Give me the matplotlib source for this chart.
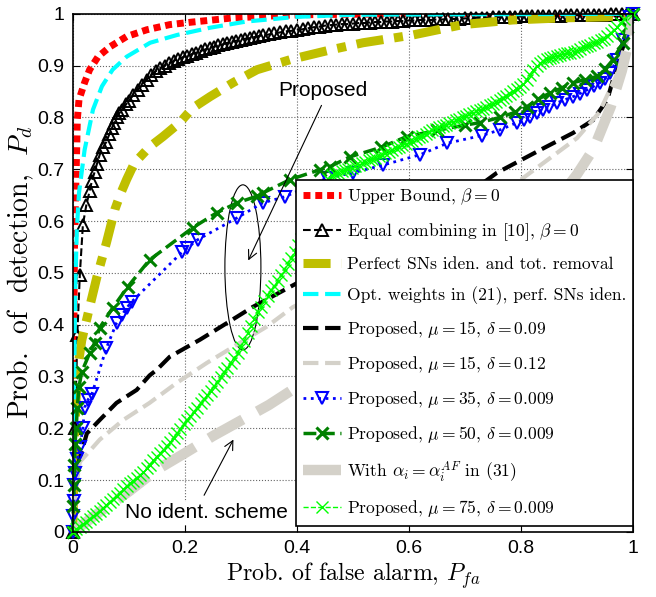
import matplotlib
matplotlib.use("Agg")
import matplotlib.pyplot as plt
from matplotlib.patches import Ellipse

plt.rcParams['mathtext.fontset'] = 'cm'

# ---- data (Pfa, Pd) ----
ub_x = [0, 0.001, 0.002, 0.003, 0.005, 0.007, 0.008, 0.011, 0.021, 0.03, 0.045, 0.066,
        0.096, 0.132, 0.173, 0.214, 0.286, 0.4, 0.6, 1.0]
ub_y = [0, 0.2, 0.4, 0.55, 0.654, 0.743, 0.795, 0.834, 0.867, 0.892, 0.917, 0.936,
        0.956, 0.969, 0.979, 0.984, 0.992, 0.998, 1.0, 1.0]

eq_x = [0, 0.004, 0.008, 0.0125, 0.018, 0.024, 0.03, 0.034, 0.039, 0.043, 0.048, 0.054,
        0.06, 0.065, 0.07, 0.074, 0.078, 0.083, 0.088, 0.095,
        0.100, 0.108, 0.116, 0.124, 0.132, 0.140, 0.148, 0.156, 0.164, 0.172, 0.180,
        0.188, 0.196, 0.204, 0.212, 0.220, 0.228, 0.236, 0.244, 0.252, 0.260, 0.268,
        0.276, 0.284, 0.292, 0.300, 0.308, 0.316, 0.324, 0.332, 0.340, 0.350,
        0.36, 0.37, 0.38, 0.39, 0.40, 0.41, 0.42, 0.43, 0.44, 0.45, 0.46, 0.47, 0.48,
        0.49, 0.50, 0.51, 0.52, 0.53, 0.54, 0.55, 0.56, 0.57, 0.58, 0.59, 0.60, 0.61,
        0.62, 0.63, 0.64, 0.65, 0.66, 0.67, 0.68, 0.69, 0.70, 0.71, 0.72, 0.73, 0.74,
        0.75, 0.76, 0.77, 0.78, 0.79, 0.80, 0.81, 0.82, 0.83, 0.84, 0.85, 0.86, 0.87,
        0.88, 0.89, 0.90, 0.91, 0.92, 0.93, 0.94, 0.95, 0.96, 0.97, 0.98, 0.99, 1.0]
eq_y = [0, 0.2, 0.38, 0.496, 0.593, 0.63, 0.658, 0.677, 0.695, 0.71, 0.728, 0.742,
        0.753, 0.767, 0.78, 0.79, 0.8, 0.808, 0.815, 0.825,
        0.832, 0.843, 0.853, 0.862, 0.873, 0.881, 0.889, 0.895, 0.900, 0.905, 0.909,
        0.913, 0.916, 0.919, 0.922, 0.925, 0.928, 0.931, 0.934, 0.936, 0.939, 0.941,
        0.944, 0.946, 0.948, 0.950, 0.952, 0.953, 0.955, 0.957, 0.958, 0.960,
        0.962, 0.964, 0.966, 0.967, 0.969, 0.970, 0.972, 0.974, 0.975, 0.977, 0.978,
        0.979, 0.980, 0.980, 0.981, 0.982, 0.982, 0.983, 0.984, 0.984, 0.985, 0.985,
        0.986, 0.986, 0.987, 0.987, 0.988, 0.988, 0.988, 0.989, 0.989, 0.990, 0.990,
        0.990, 0.991, 0.991, 0.992, 0.992, 0.992, 0.993, 0.993, 0.993, 0.994, 0.994,
        0.995, 0.995, 0.995, 0.995, 0.996, 0.996, 0.996, 0.996, 0.997, 0.997, 0.997,
        0.997, 0.998, 0.998, 0.998, 0.998, 0.999, 0.999, 0.999, 0.999, 1.0]

perf_x = [0, 0.003, 0.006, 0.009, 0.016, 0.03, 0.043, 0.06, 0.075, 0.085, 0.096, 0.11,
          0.137, 0.161, 0.191, 0.214, 0.245, 0.286, 0.329, 0.39, 0.459, 0.518, 0.607,
          0.696, 0.786, 0.875, 0.954, 1.0]
perf_y = [0, 0.18, 0.26, 0.318, 0.37, 0.434, 0.492, 0.558, 0.622, 0.652, 0.68, 0.712,
          0.743, 0.763, 0.79, 0.818, 0.84, 0.867, 0.892, 0.912, 0.93, 0.944, 0.959,
          0.979, 0.988, 0.992, 0.994, 1.0]

opt_x = [0, 0.001, 0.002, 0.004, 0.007, 0.011, 0.021, 0.036, 0.052, 0.071, 0.096, 0.138,
         0.186, 0.245, 0.31, 0.4, 0.5, 1.0]
opt_y = [0, 0.1, 0.25, 0.45, 0.58, 0.654, 0.737, 0.815, 0.86, 0.892, 0.917, 0.944,
         0.959, 0.973, 0.985, 0.994, 0.998, 1.0]

p15a_x = [0, 0.003, 0.006, 0.01, 0.025, 0.048, 0.078, 0.114, 0.137, 0.15, 0.173, 0.227,
          0.275, 0.321, 0.4, 0.5, 0.6, 0.7, 0.757, 0.834, 0.893, 0.929, 0.954, 0.971,
          0.99, 1.0]
p15a_y = [0, 0.06, 0.1, 0.133, 0.19, 0.216, 0.249, 0.274, 0.302, 0.313, 0.338, 0.371,
          0.403, 0.434, 0.48, 0.53, 0.58, 0.648, 0.693, 0.737, 0.77, 0.795, 0.834, 0.898,
          0.963, 1.0]

p15b_x = [0, 0.005, 0.0125, 0.048, 0.09, 0.137, 0.186, 0.239, 0.286, 0.346, 0.393, 0.5,
          0.6, 0.7, 0.8, 0.85, 0.9, 0.94, 0.97, 0.99, 1.0]
p15b_y = [0, 0.08, 0.135, 0.178, 0.216, 0.249, 0.288, 0.326, 0.357, 0.396, 0.434, 0.49,
          0.55, 0.62, 0.68, 0.72, 0.76, 0.81, 0.88, 0.95, 1.0]

p35_x = [0, 0.001, 0.002, 0.003, 0.004, 0.008, 0.0125, 0.018, 0.021, 0.027, 0.034, 0.06,
         0.078, 0.088, 0.096, 0.105, 0.195, 0.204, 0.223, 0.293, 0.339, 0.379, 0.454, 0.5,
         0.554, 0.62, 0.668, 0.73, 0.763, 0.793, 0.805, 0.816, 0.828, 0.839, 0.85, 0.864,
         0.878, 0.893, 0.905, 0.918, 0.93, 0.941, 0.95, 0.959, 0.971, 0.982, 0.995, 1.0]
p35_y = [0, 0.03, 0.06, 0.09, 0.114, 0.14, 0.164, 0.2, 0.24, 0.255, 0.266, 0.355,
         0.403, 0.419, 0.432, 0.444, 0.54, 0.548, 0.564, 0.606, 0.635, 0.647, 0.683, 0.693,
         0.708, 0.728, 0.75, 0.765, 0.776, 0.79, 0.795, 0.801, 0.808, 0.815, 0.82, 0.828,
         0.834, 0.84, 0.846, 0.853, 0.86, 0.867, 0.875, 0.886, 0.911, 0.95, 0.994, 1.0]

p50_x = [0, 0.001, 0.002, 0.003, 0.004, 0.006, 0.008, 0.011, 0.016, 0.03, 0.039, 0.048,
         0.071, 0.098, 0.137, 0.214, 0.257, 0.293, 0.329, 0.339, 0.388, 0.441, 0.459,
         0.495, 0.55, 0.596, 0.65, 0.7, 0.727, 0.763, 0.79, 0.81, 0.83, 0.852, 0.873,
         0.893, 0.915, 0.936, 0.95, 0.964, 0.982, 0.989, 1.0]
p50_y = [0, 0.05, 0.09, 0.13, 0.17, 0.2, 0.24, 0.28, 0.309, 0.345, 0.365, 0.394,
         0.432, 0.473, 0.525, 0.587, 0.616, 0.635, 0.648, 0.654, 0.68, 0.699, 0.705,
         0.724, 0.742, 0.763, 0.775, 0.785, 0.79, 0.8, 0.81, 0.82, 0.835, 0.847, 0.857,
         0.867, 0.873, 0.879, 0.893, 0.911, 0.944, 0.975, 1.0]

af_x = [0, 0.05, 0.1, 0.15, 0.2, 0.25, 0.3, 0.35, 0.4, 0.5, 0.6, 0.7, 0.8, 0.85, 0.9,
        0.93, 0.96, 0.98, 0.995, 1.0]
af_y = [0, 0.04, 0.078, 0.12, 0.152, 0.185, 0.215, 0.245, 0.28, 0.34, 0.4, 0.47, 0.56,
        0.62, 0.69, 0.74, 0.82, 0.89, 0.96, 1.0]

p75_x = [0.000, 0.006, 0.012, 0.018, 0.024, 0.030, 0.036, 0.042, 0.048, 0.054, 0.060,
         0.066, 0.072, 0.078, 0.084, 0.090, 0.096, 0.102, 0.108, 0.114, 0.120, 0.126,
         0.132, 0.138, 0.144, 0.150, 0.156, 0.162, 0.168, 0.174, 0.180, 0.186, 0.192,
         0.198, 0.204, 0.210, 0.216, 0.222, 0.228, 0.234, 0.240, 0.246, 0.252, 0.258,
         0.264, 0.270, 0.276, 0.282, 0.288, 0.294, 0.300, 0.306, 0.312, 0.318, 0.324,
         0.330, 0.336, 0.342, 0.348, 0.354, 0.360, 0.366, 0.372, 0.378, 0.384, 0.390,
         0.396, 0.402, 0.408, 0.414, 0.420, 0.426, 0.432, 0.438, 0.444, 0.450, 0.456,
         0.462, 0.468, 0.474, 0.480, 0.486, 0.492, 0.498, 0.504, 0.510, 0.516, 0.522,
         0.528, 0.534, 0.540, 0.546, 0.552, 0.558, 0.564, 0.570, 0.576, 0.582, 0.588,
         0.594, 0.600, 0.606, 0.612, 0.618, 0.624, 0.630, 0.636, 0.642, 0.648, 0.654,
         0.660, 0.666, 0.672, 0.678, 0.684, 0.690, 0.696, 0.702, 0.708, 0.714, 0.720,
         0.726, 0.732, 0.738, 0.744, 0.750, 0.756, 0.762, 0.768, 0.774, 0.780, 0.786,
         0.792, 0.798, 0.804, 0.810, 0.816, 0.822, 0.828, 0.834, 0.840, 0.846, 0.852,
         0.858, 0.864, 0.870, 0.876, 0.882, 0.888, 0.894, 0.900, 0.906, 0.912, 0.918,
         0.924, 0.930, 0.936, 0.942, 0.948, 0.954, 0.960, 0.966, 0.972, 0.978, 0.984,
         1.0]
p75_y = [0.000, 0.005, 0.010, 0.015, 0.020, 0.025, 0.030, 0.035, 0.040, 0.046, 0.052,
         0.058, 0.064, 0.070, 0.076, 0.082, 0.088, 0.094, 0.099, 0.104, 0.110, 0.115,
         0.123, 0.130, 0.138, 0.145, 0.152, 0.159, 0.166, 0.173, 0.181, 0.190, 0.199,
         0.208, 0.216, 0.224, 0.232, 0.240, 0.248, 0.256, 0.264, 0.272, 0.281, 0.290,
         0.299, 0.308, 0.317, 0.326, 0.336, 0.345, 0.356, 0.369, 0.383, 0.397, 0.410,
         0.424, 0.435, 0.446, 0.456, 0.466, 0.475, 0.485, 0.495, 0.506, 0.517, 0.529,
         0.540, 0.553, 0.566, 0.580, 0.595, 0.610, 0.625, 0.640, 0.655, 0.670, 0.682,
         0.689, 0.691, 0.693, 0.696, 0.698, 0.701, 0.703, 0.706, 0.709, 0.711, 0.714,
         0.717, 0.720, 0.722, 0.725, 0.728, 0.731, 0.734, 0.737, 0.740, 0.743, 0.746,
         0.749, 0.752, 0.755, 0.758, 0.762, 0.765, 0.768, 0.771, 0.775, 0.778, 0.781,
         0.784, 0.786, 0.789, 0.792, 0.795, 0.797, 0.800, 0.803, 0.806, 0.809, 0.812,
         0.814, 0.817, 0.820, 0.823, 0.826, 0.830, 0.834, 0.838, 0.842, 0.846, 0.850,
         0.855, 0.859, 0.865, 0.872, 0.882, 0.891, 0.899, 0.904, 0.908, 0.912, 0.915,
         0.916, 0.918, 0.920, 0.922, 0.924, 0.925, 0.927, 0.929, 0.932, 0.935, 0.938,
         0.940, 0.943, 0.946, 0.949, 0.952, 0.957, 0.963, 0.968, 0.975, 0.982, 0.990,
         1.0]

ticks = [0, 0.1, 0.2, 0.3, 0.4, 0.5, 0.6, 0.7, 0.8, 0.9, 1.0]
y_labels = ['0', '0.1', '0.2', '0.3', '0.4', '0.5', '0.6', '0.7', '0.8', '0.9', '1']
x_ticks = [0, 0.2, 0.4, 0.6, 0.8, 1.0]
x_labels = ['0', '0.2', '0.4', '0.6', '0.8', '1']

yellow = (0.75, 0.75, 0.0)
lgray = (0.83, 0.82, 0.79)
dgreen = (0.0, 0.5, 0.0)

fig = plt.figure(figsize=(6.56, 5.97), dpi=100)
ax = fig.add_axes([0.111, 0.109, 0.854, 0.868])

ax.plot(ub_x, ub_y, color='red', lw=5, ls=(0, (1, 0.7)), label=r'Upper Bound, $\beta = 0$')
ax.plot(eq_x, eq_y, color='black', lw=1.5, ls='--', marker='^', ms=8, mfc='none',
        mew=1.4, clip_on=False, label=r'Equal combining in [10], $\beta = 0$')
ax.plot(perf_x, perf_y, color=yellow, lw=6.5, ls=(0, (3, 1.2, 1, 1.2)),
        label='Perfect SNs iden. and tot. removal')
ax.plot(opt_x, opt_y, color='cyan', lw=3, ls='--',
        label='Opt. weights in (21), perf. SNs iden.')
ax.plot(p15a_x, p15a_y, color='black', lw=3, ls='--',
        label=r'Proposed, $\mu = 15$, $\delta = 0.09$')
ax.plot(p15b_x, p15b_y, color=lgray, lw=3, ls='--',
        label=r'Proposed, $\mu = 15$, $\delta = 0.12$')
ax.plot(p35_x, p35_y, color='blue', lw=2, ls=':', marker='v', ms=9, mfc='none',
        mew=1.5, clip_on=False, label=r'Proposed, $\mu = 35$, $\delta = 0.009$')
ax.plot(p50_x, p50_y, color=dgreen, lw=2.5, ls='--', marker='x', ms=9, mew=2.2,
        clip_on=False, label=r'Proposed, $\mu = 50$, $\delta = 0.009$')
ax.plot(af_x, af_y, color=lgray, lw=7.5, ls='--',
        label=r'With $\alpha_i = \alpha_i^{AF}$ in (31)')
ax.plot(p75_x, p75_y, color=(0, 1, 0), lw=1, ls='--', marker='x', ms=8, mew=1,
        clip_on=False, label=r'Proposed, $\mu = 75$, $\delta = 0.009$')

# annotations
ax.add_patch(Ellipse((0.3036, 0.5106), 0.0643, 0.3185, fill=False, lw=0.8, color='black'))
ax.text(0.446, 0.852, 'Proposed', fontsize=15, family='Liberation Sans',
        ha='center', va='center')
ax.annotate('', xy=(0.311, 0.519), xytext=(0.446, 0.828),
            arrowprops=dict(arrowstyle='->', lw=0.8, color='black', mutation_scale=16))
ax.text(0.239, 0.037, 'No ident. scheme', fontsize=15, family='Liberation Sans',
        ha='center', va='center',
        bbox=dict(facecolor='white', edgecolor='none', pad=1))
ax.annotate('', xy=(0.289, 0.183), xytext=(0.232, 0.066),
            arrowprops=dict(arrowstyle='->', lw=0.8, color='black', mutation_scale=16))

ax.set_xlim(0, 1)
ax.set_ylim(0, 1)
ax.set_xticks(x_ticks)
ax.set_xticklabels(x_labels)
ax.set_yticks(ticks)
ax.set_yticklabels(y_labels)
ax.tick_params(direction='in', top=True, right=True, length=5, width=0.8,
               labelsize=14, pad=6)
for lab in ax.get_xticklabels() + ax.get_yticklabels():
    lab.set_family('Liberation Sans')
ax.grid(True, ls=':', color='0.4', lw=0.8)
for sp in ax.spines.values():
    sp.set_linewidth(1.2)

ax.set_xlabel(r'Prob. of false alarm, $P_{fa}$', fontsize=17.2, family='cmr10', labelpad=2)
ax.set_ylabel(r'Prob.  of  detection,  $P_d$', fontsize=20, family='cmr10', labelpad=1)

leg = ax.legend(loc='lower right', bbox_to_anchor=(1.0, 0.012), borderaxespad=0,
                fancybox=False, framealpha=1, edgecolor='black',
                prop={'family': 'cmr10', 'size': 12.6}, labelspacing=0.8,
                handlelength=2.2, handletextpad=0.3, borderpad=0.4)
leg.get_frame().set_linewidth(1.2)

fig.savefig('out.png', dpi=100)
